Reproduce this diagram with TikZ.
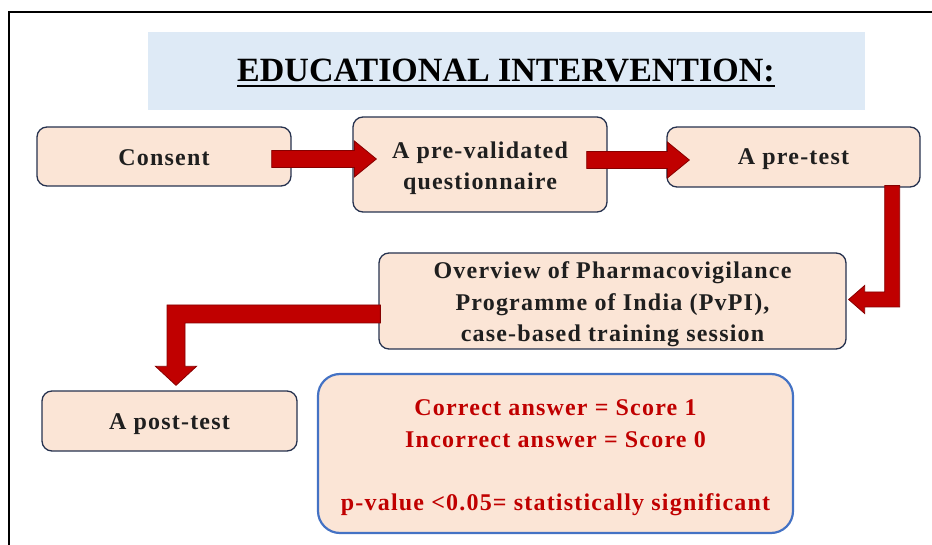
\documentclass[tikz,border=0pt]{standalone}
\usepackage{fontspec}
\setmainfont{Liberation Serif}
\newfontfamily\boxfont{Liberation Serif}[LetterSpace=5]
\usetikzlibrary{calc}

\definecolor{peach}{HTML}{FBE5D6}
\definecolor{titlebg}{HTML}{DEEAF6}
\definecolor{edge}{HTML}{26324F}
\definecolor{arrowred}{HTML}{C00000}
\definecolor{scoreblue}{HTML}{4472C4}
\definecolor{scorered}{HTML}{C00000}

% straight block arrow from #1 (shaft start) to #2 (tip)
\newcommand{\hblockarrow}[2]{%
  \draw[blockarrow] ($(#1)+(0,-8.5)$) -- ($(#2)+(-22,-8.5)$) -- ($(#2)+(-22,-18)$)
    -- (#2) -- ($(#2)+(-22,18)$) -- ($(#2)+(-22,8.5)$) -- ($(#1)+(0,8.5)$) -- cycle;}

\begin{document}
\begin{tikzpicture}[x=1pt,y=-1pt,
  stepbox/.style={draw=edge, line width=1.3pt, fill=peach, rounded corners=10pt, inner sep=0pt},
  boxtext/.style={align=center, inner sep=0pt, text=black!88,
    font=\boxfont\bfseries\fontsize{24}{31.5}\selectfont},
  blockarrow/.style={fill=arrowred, draw=arrowred!70!black, line width=0.8pt, line join=miter}]

\useasboundingbox (0,0) rectangle (932,545);

% page frame
\draw[line width=2pt] (9,545) -- (9,12) -- (932,12);

% title banner
\fill[titlebg] (148,32) rectangle (865,110);
\node[font=\bfseries\fontsize{34}{37}\selectfont, inner sep=0pt] (title) at (506,71) {EDUCATIONAL INTERVENTION:};
\draw[line width=2pt] ($(title.base west)+(0,4)$) -- ($(title.base east)+(0,4)$);

% steps
\node[stepbox, minimum width=254pt, minimum height=59pt] (consent) at (164,156.5) {};
\node[stepbox, minimum width=254pt, minimum height=95pt] (quest) at (480,164.5) {};
\node[stepbox, minimum width=253pt, minimum height=60pt] (pretest) at (793.5,157) {};
\node[stepbox, minimum width=467pt, minimum height=96pt] (overview) at (612.5,301) {};
\node[stepbox, minimum width=255pt, minimum height=60pt] (posttest) at (169.5,421) {};
\node[stepbox, draw=scoreblue, line width=2.2pt, rounded corners=22pt,
  minimum width=475pt, minimum height=159pt] (score) at (555.5,453.5) {};

% step texts
\node[boxtext] (consent-t) at ($(consent.center)+(0,1.5)$) {Consent};
\node[boxtext] (quest-t) at ($(quest.center)+(0,3.5)$) {A pre-validated\\questionnaire};
\node[boxtext] (pretest-t) at ($(pretest.center)+(0,2.5)$) {A pre-test};
\node[boxtext] (overview-t) at ($(overview.center)+(0,3.5)$)
  {Overview of Pharmacovigilance\\Programme of India (PvPI),\\case-based training session};
\node[boxtext] (posttest-t) at ($(posttest.center)+(0,3)$) {A post-test};
\node[boxtext, text=scorered] (score-t) at ($(score.center)+(0,4)$)
  {Correct answer = Score 1\\Incorrect answer = Score 0\\[31.5pt]p-value <0.05= statistically significant};

% straight arrows
\coordinate (a1s) at ($(consent.east)+(-20,2.5)$);
\coordinate (a1t) at ($(a1s -| quest.west)+(24,0)$);
\hblockarrow{a1s}{a1t}
\coordinate (a2s) at ($(quest.east)+(-21,-4.5)$);
\coordinate (a2t) at ($(a2s -| pretest.west)+(23,0)$);
\hblockarrow{a2s}{a2t}

% elbow arrow: pre-test down and left into the overview
\coordinate (e3s) at ($(pretest.south east)+(-28.5,-2)$);
\coordinate (e3t) at ($(overview.east)+(2,-1.5)$);
\draw[blockarrow] ($(e3s)+(-7.5,0)$) -- ($(e3s)+(7.5,0)$) -- ($(e3s|-e3t)+(7.5,7.5)$)
  -- ($(e3t)+(16,7.5)$) -- ($(e3t)+(16,14)$) -- (e3t) -- ($(e3t)+(16,-14)$)
  -- ($(e3t)+(16,-7.5)$) -- ($(e3s|-e3t)+(-7.5,-7.5)$) -- cycle;

% elbow arrow: overview left and down to the post-test
\coordinate (e4s) at ($(overview.west)+(2,13)$);
\coordinate (e4t) at ($(posttest.north)+(6.5,-5)$);
\draw[blockarrow] ($(e4s)+(0,-9)$) -- ($(e4t|-e4s)+(-9,-9)$) -- ($(e4t)+(-9,-19)$)
  -- ($(e4t)+(-20.5,-19)$) -- (e4t) -- ($(e4t)+(20.5,-19)$) -- ($(e4t)+(9,-19)$)
  -- ($(e4t|-e4s)+(9,9)$) -- ($(e4s)+(0,9)$) -- cycle;

\end{tikzpicture}
\end{document}
